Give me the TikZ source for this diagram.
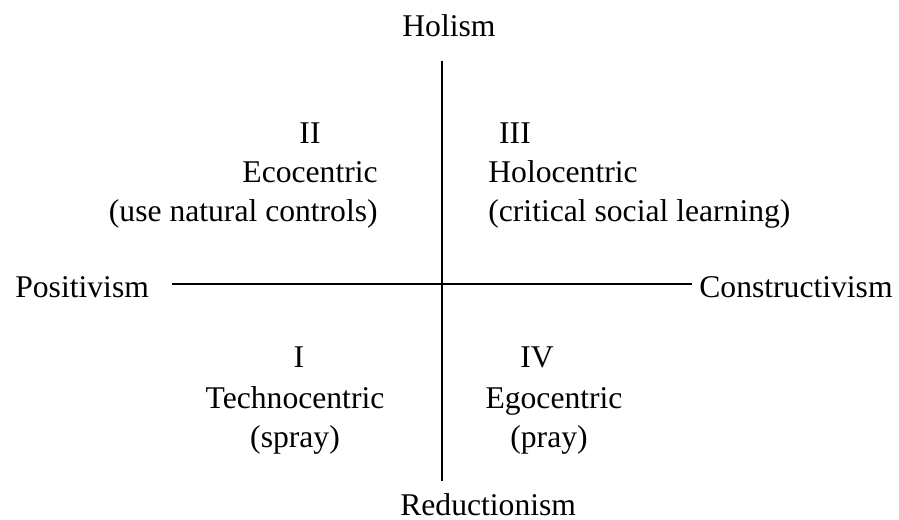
\documentclass[tikz,border=0pt]{standalone}
\usepackage{fontspec}
\setmainfont{Liberation Serif}
\usetikzlibrary{positioning}
\definecolor{qdark}{HTML}{000000}
\tikzset{
  axislabel/.style={font=\fontsize{18}{21.6}\selectfont, text=qdark, inner sep=0pt},
  quadtext/.style={font=\fontsize{18}{21.6}\selectfont, text=qdark, inner sep=0pt},
  axisline/.style={draw=qdark, line width=1.1pt},
}
\begin{document}
\begin{tikzpicture}[x=0.02cm, y=-0.02cm]

  %% ── Canvas ──
  \useasboundingbox (0,0) rectangle (899,520);

  %% ═══════════ AXIS LABELS ═══════════
  \node[axislabel, anchor=base west] (hol) at (402, 37) {Holism};
  \node[axislabel, anchor=base west] (red) at (400, 515) {Reductionism};
  \node[axislabel, anchor=base west] (pos) at (15, 297) {Positivism};
  \node[axislabel, anchor=base west] (con) at (699, 297) {Constructivism};

  %% Axis end points
  \coordinate (top) at (442, 61);
  \coordinate (bot) at (442, 481);
  \coordinate (lft) at (172, 284);
  \coordinate (rgt) at (692, 284);

  %% ═══════════ AXES ═══════════
  \draw[axisline] (top) -- (bot);
  \draw[axisline] (lft) -- (rgt);

  %% ═══════════ QUADRANT II (upper left) ═══════════
  \node[quadtext, anchor=base] (q2num) at (310, 144) {II};
  \node[quadtext, anchor=base east] (q2name) at (378, 183) {Ecocentric};
  \node[quadtext, anchor=base east] (q2note) at (378, 222) {(use natural controls)};

  %% ═══════════ QUADRANT III (upper right) ═══════════
  \node[quadtext, anchor=base] (q3num) at (515, 144) {III};
  \node[quadtext, anchor=base west] (q3name) at (488, 183) {Holocentric};
  \node[quadtext, anchor=base west] (q3note) at (488, 222) {(critical social learning)};

  %% ═══════════ QUADRANT I (lower left) ═══════════
  \node[quadtext, anchor=base] (q1num) at (299, 367) {I};
  \node[quadtext, anchor=base] (q1name) at (295, 408) {Technocentric};
  \node[quadtext, anchor=base] (q1note) at (295, 447) {(spray)};

  %% ═══════════ QUADRANT IV (lower right) ═══════════
  \node[quadtext, anchor=base] (q4num) at (537, 367) {IV};
  \node[quadtext, anchor=base] (q4name) at (554, 408) {Egocentric};
  \node[quadtext, anchor=base] (q4note) at (549, 447) {(pray)};

\end{tikzpicture}
\end{document}
